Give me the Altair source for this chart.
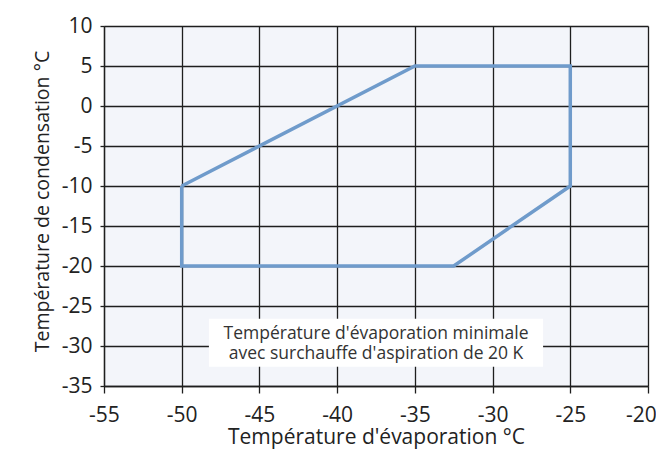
import altair as alt
import pandas as pd

# Envelope polygon (evaporation °C, condensation °C), in drawing order
evap = [-50, -35, -25, -25, -32.5, -50, -50]
cond = [-10, 5, 5, -10, -20, -20, -10]

x_ticks = [-55, -50, -45, -40, -35, -30, -25, -20]
y_ticks = [10, 5, 0, -5, -10, -15, -20, -25, -30, -35]

note_lines = ["Température d'évaporation minimale",
              "avec surchauffe d'aspiration de 20 K"]
note_box_x = [-48.25]
note_box_x2 = [-26.75]
note_box_y = [-26.6]
note_box_y2 = [-32.6]
note_x = [-37.5, -37.5]
note_y = [-28.55, -31.05]

FONT = "Open Sans"

poly = pd.DataFrame({"evap": evap, "cond": cond, "order": list(range(len(evap)))})
box = pd.DataFrame({"x": note_box_x, "x2": note_box_x2, "y": note_box_y, "y2": note_box_y2})
notes = pd.DataFrame({"x": note_x, "y": note_y, "t": note_lines})

xscale = alt.Scale(domain=[-55, -20], nice=False, zero=False)
yscale = alt.Scale(domain=[-35, 10], nice=False, zero=False)

LBL = "toString(datum.value)"

xaxis = alt.Axis(values=x_ticks, title="Température d'évaporation °C",
                 tickSize=7, labelPadding=28, labelBaseline="alphabetic",
                 labelExpr=LBL, labelOverlap=False, labelFlush=False,
                 labelOffset={"condition": {"test": "datum.value == -20", "value": -7}, "value": 0},
                 titleY=57, titleBaseline="alphabetic", titleX=272, titleFontSize=21)
yaxis = alt.Axis(values=y_ticks, title="Température de condensation °C",
                 tickSize=4, labelPadding=8, labelExpr=LBL, labelOverlap=False,
                 labelFlush=False,
                 titleX=-56, titleY=175, titleBaseline="alphabetic", titleFontSize=19.5)

line = alt.Chart(poly).mark_line(color="#6f9bcb", strokeWidth=3.5, strokeJoin="miter").encode(
    x=alt.X("evap:Q", scale=xscale, axis=xaxis),
    y=alt.Y("cond:Q", scale=yscale, axis=yaxis),
    order="order:Q",
)

rect = alt.Chart(box).mark_rect(color="white").encode(
    x=alt.X("x:Q", scale=xscale, axis=xaxis), x2="x2:Q",
    y=alt.Y("y:Q", scale=yscale, axis=yaxis), y2="y2:Q",
)

text = alt.Chart(notes).mark_text(font=FONT, fontSize=17.5, color="#333333", align="center",
                                  baseline="middle").encode(
    x=alt.X("x:Q", scale=xscale, axis=xaxis),
    y=alt.Y("y:Q", scale=yscale, axis=yaxis),
    text="t:N",
)

chart = alt.layer(line, rect, text).properties(
    width=544, height=360,
    autosize=alt.AutoSizeParams(type="none"),
    padding={"left": 96, "top": 18, "right": 8, "bottom": 66},
).configure_view(
    fill="#f3f5fa", stroke=None
).configure_axis(
    grid=True, gridColor="#1e1e1e", gridWidth=1.3, gridOpacity=1,
    domainColor="#1e1e1e", domainWidth=1.3, tickColor="#1e1e1e", tickWidth=1.3,
    labelFont=FONT, labelFontSize=21, labelColor="#222222",
    titleFont=FONT, titleColor="#222222", titleFontWeight="normal",
)

chart.save("out.html", embed_options={"renderer": "svg", "actions": False})
